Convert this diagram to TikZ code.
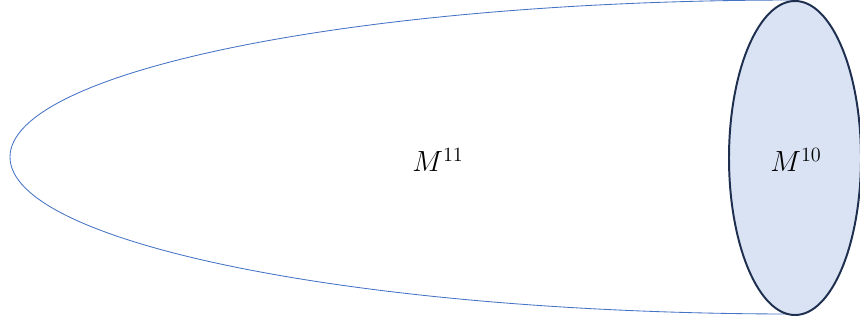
\documentclass[tikz,border=0pt]{standalone}
\usepackage{tikz}
\usetikzlibrary{shapes.geometric, backgrounds}
\definecolor{ShellBlue}{HTML}{4472C4}
\definecolor{RimFill}{HTML}{DAE3F3}
\definecolor{RimLine}{HTML}{1F2F50}

\begin{document}
\begin{tikzpicture}[
    shell/.style={ShellBlue, line width=0.6pt},
    rim/.style={ellipse, draw=RimLine, fill=RimFill, line width=1.4pt, inner sep=0pt,
        minimum width=3.3cm, minimum height=7.85cm},
    lab/.style={font=\fontsize{20.5}{24}\selectfont},
]
\useasboundingbox (0,0) rectangle (21.5,8.075);

% --- boundary disc ---
\node[rim] (disc) at (19.875,4.125) {};
\node[lab] (inner) at (19.9,4.075) {$M^{10}$};

% --- bulk, half of a long ellipse behind the disc ---
\begin{scope}[on background layer]
\draw[shell] (disc.north) arc[start angle=90, end angle=270, x radius=19.625cm, y radius=3.925cm];
\end{scope}
\node[lab] (bulk) at (10.95,4.075) {$M^{11}$};

\end{tikzpicture}
\end{document}
